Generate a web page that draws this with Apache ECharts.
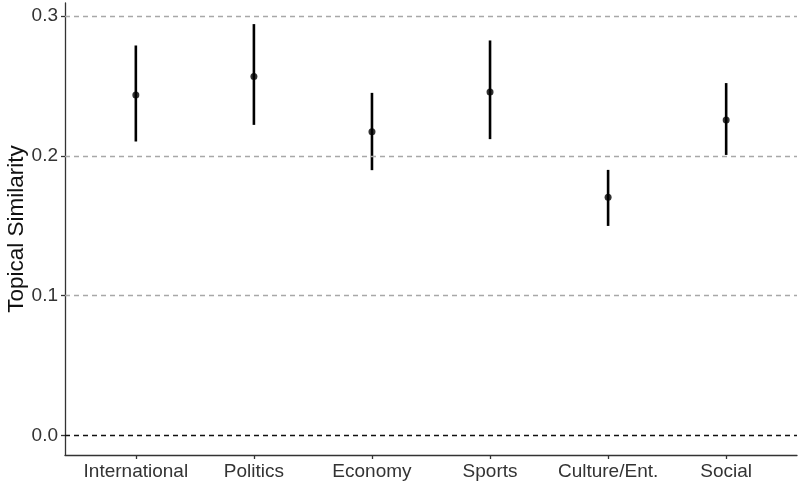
<!DOCTYPE html>
<html><head><meta charset="utf-8">
<script src="https://cdn.jsdelivr.net/npm/echarts@6/dist/echarts.min.js"></script>
<style>html,body{margin:0;padding:0;background:#fff}#c{width:800px;height:487px}</style>
</head><body><div id="c"></div>
<script>
var categories = ["International","Politics","Economy","Sports","Culture/Ent.","Social"];
var means = [0.2434, 0.2567, 0.2171, 0.2457, 0.1704, 0.2255];
var lower = [0.2102, 0.2221, 0.1897, 0.2119, 0.1498, 0.2006];
var upper = [0.2789, 0.2942, 0.2450, 0.2825, 0.1899, 0.2520];
var yTicks = [0.0, 0.1, 0.2, 0.3];
var xPositions = categories.map(function(c,i){return i+1;});

var chart = echarts.init(document.getElementById('c'));
var labelColor = '#333';
var font = 'Liberation Sans, Arial, sans-serif';
chart.setOption({
  animation:false,
  grid:{left:65,right:3,top:3,bottom:32,containLabel:false,outerBoundsMode:'none'},
  xAxis:{type:'value',min:0.4,max:6.6,
    axisLine:{show:true,onZero:false,lineStyle:{color:'#333',width:1.3}},
    axisTick:{show:true,customValues:xPositions,length:4,lineStyle:{color:'#333',width:1.3}},
    axisLabel:{customValues:xPositions,color:labelColor,fontSize:19,fontFamily:font,margin:7,
      formatter:function(v){return categories[Math.round(v)-1]||'';}},
    splitLine:{show:false}},
  yAxis:{type:'value',min:-0.0141,max:0.3093,
    name:'Topical Similarity',nameLocation:'middle',nameGap:37,nameMoveOverlap:false,
    nameTextStyle:{color:'#111',fontSize:22.5,fontFamily:font},
    axisLine:{show:true,onZero:false,lineStyle:{color:'#333',width:1.3}},
    axisTick:{show:true,customValues:yTicks,length:4,lineStyle:{color:'#333',width:1.3}},
    axisLabel:{customValues:yTicks,color:labelColor,fontSize:19,fontFamily:font,margin:7,
      formatter:function(v){return v.toFixed(1);}},
    splitLine:{show:false}},
  series:[
    {type:'line',data:[],silent:true,
      markLine:{silent:true,symbol:'none',label:{show:false},
        data:yTicks.map(function(t){return {yAxis:t,lineStyle:{color:t===0?'#111':'#a8a8a8',type:[5,4],width:1.3}};})}},
    {type:'custom',
      data:categories.map(function(c,i){return [xPositions[i],lower[i],upper[i]];}),
      renderItem:function(params,api){
        var a=api.coord([api.value(0),api.value(1)]);
        var b=api.coord([api.value(0),api.value(2)]);
        return {type:'line',shape:{x1:a[0],y1:a[1],x2:b[0],y2:b[1]},style:{stroke:'#000',lineWidth:2.6}};
      },z:3},
    {type:'scatter',symbolSize:7,itemStyle:{color:'#000'},
      data:categories.map(function(c,i){return [xPositions[i],means[i]];}),z:4}
  ]
});
</script></body></html>
